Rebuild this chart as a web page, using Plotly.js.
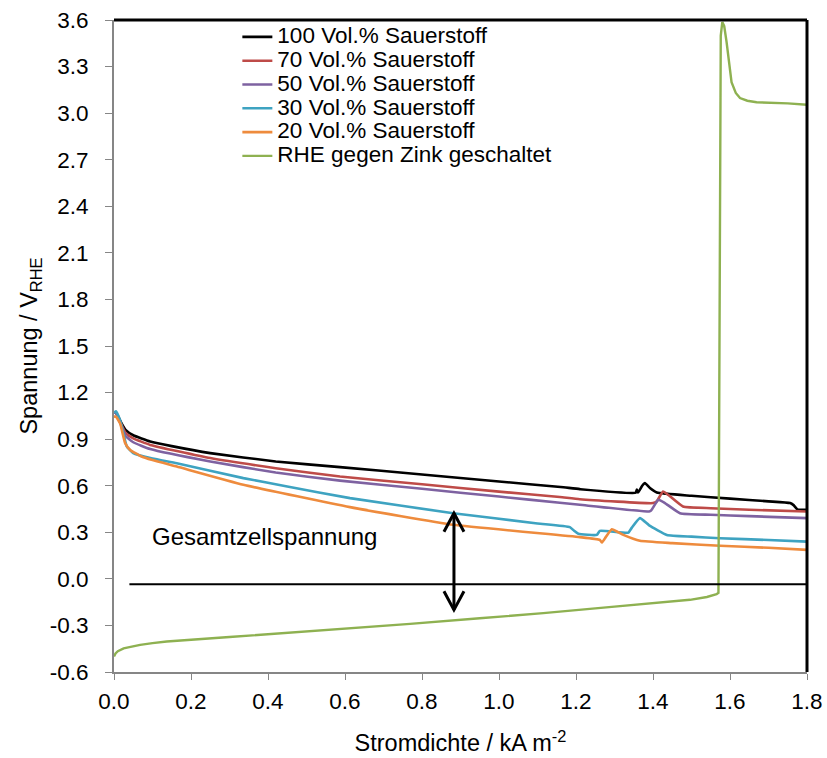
<!DOCTYPE html>
<html><head><meta charset="utf-8">
<script src="https://cdn.plot.ly/plotly-3.0.1.min.js"></script>
<style>html,body{margin:0;padding:0;background:#fff}#chart{width:827px;height:758px}</style>
</head><body><div id="chart"></div>
<script>
// ---- data ----
const seriesNames = ["100 Vol.% Sauerstoff","70 Vol.% Sauerstoff","50 Vol.% Sauerstoff","30 Vol.% Sauerstoff","20 Vol.% Sauerstoff","RHE gegen Zink geschaltet"];

const x100 = [0,0.005,0.012,0.02,0.03,0.05,0.094,0.15,0.25,0.42,0.587,0.8,1.0,1.16,1.21,1.355,1.358,1.361,1.372,1.379,1.392,1.41,1.5,1.6,1.7,1.756,1.765,1.775,1.8];
const y100 = [1.07,1.07,1.04,1.0,0.96,0.925,0.885,0.855,0.81,0.756,0.72,0.672,0.627,0.592,0.578,0.555,0.575,0.556,0.60,0.617,0.585,0.556,0.535,0.517,0.499,0.488,0.475,0.448,0.445];

const x70 = [0,0.005,0.012,0.02,0.03,0.05,0.094,0.25,0.42,0.587,0.8,1.0,1.158,1.21,1.40,1.41,1.426,1.44,1.478,1.55,1.65,1.8];
const y70 = [1.07,1.07,1.03,0.99,0.94,0.905,0.863,0.778,0.713,0.659,0.609,0.562,0.527,0.513,0.488,0.50,0.563,0.54,0.466,0.455,0.445,0.434];

const x50 = [0,0.005,0.012,0.02,0.03,0.05,0.094,0.25,0.42,0.587,0.8,1.0,1.158,1.21,1.39,1.395,1.414,1.43,1.47,1.55,1.65,1.8];
const y50 = [1.07,1.07,1.03,0.98,0.92,0.88,0.836,0.756,0.685,0.633,0.58,0.53,0.49,0.477,0.434,0.44,0.509,0.49,0.423,0.413,0.404,0.391];

const x30 = [0,0.005,0.016,0.025,0.033,0.05,0.1,0.163,0.336,0.45,0.613,0.881,1.10,1.184,1.195,1.206,1.254,1.262,1.336,1.345,1.366,1.39,1.436,1.5,1.574,1.7,1.8];
const y30 = [1.07,1.08,1.02,0.93,0.853,0.81,0.775,0.745,0.649,0.595,0.52,0.423,0.357,0.333,0.31,0.29,0.283,0.309,0.298,0.33,0.391,0.345,0.283,0.272,0.262,0.25,0.24];

const x20 = [0,0.005,0.016,0.029,0.042,0.07,0.1,0.163,0.336,0.613,0.881,1.21,1.262,1.267,1.275,1.293,1.323,1.366,1.45,1.574,1.7,1.8];
const y20 = [1.045,1.045,1.0,0.874,0.83,0.79,0.765,0.723,0.606,0.462,0.348,0.269,0.251,0.234,0.26,0.32,0.283,0.245,0.23,0.213,0.2,0.187];

const xRHE = [0,0.004,0.01,0.016,0.025,0.04,0.068,0.1,0.137,0.3,0.5,0.769,0.95,1.115,1.3,1.496,1.54,1.565,1.570,1.576,1.580,1.585,1.591,1.598,1.604,1.615,1.626,1.645,1.669,1.75,1.8];
const yRHE = [-0.50,-0.48,-0.466,-0.457,-0.448,-0.44,-0.425,-0.414,-0.404,-0.375,-0.34,-0.29,-0.254,-0.221,-0.179,-0.135,-0.117,-0.099,-0.09,3.5,3.587,3.56,3.46,3.3,3.20,3.13,3.097,3.08,3.07,3.063,3.054];

const yTickVals = [-0.6,-0.3,0.0,0.3,0.6,0.9,1.2,1.5,1.8,2.1,2.4,2.7,3.0,3.3,3.6];
const yTickText = ["-0.6","-0.3","0.0","0.3","0.6","0.9","1.2","1.5","1.8","2.1","2.4","2.7","3.0","3.3","3.6"];
const xTickVals = [0,0.2,0.4,0.6,0.8,1.0,1.2,1.4,1.6,1.8];
const xTickText = ["0.0","0.2","0.4","0.6","0.8","1.0","1.2","1.4","1.6","1.8"];

// annotation values
const refLineY = -0.035, refLineX0 = 0.04, refLineX1 = 1.8;
const arrowX = 0.883, arrowTop = 0.423, arrowBottom = -0.2;
const labelText = "Gesamtzellspannung", labelX = 0.392, labelY = 0.27;

// ---- styles ----
const colors = ["#000000","#BE4B48","#7E62A1","#3EA3C1","#EE8B3D","#8EB151"];
const xs = [x100,x70,x50,x30,x20,xRHE];
const ys = [y100,y70,y50,y30,y20,yRHE];
const widths = [2.6,2.6,2.6,2.6,2.6,2.4];

const traces = xs.map((x,i)=>({
  x:x, y:ys[i], name:'<span style="font-size:22.5px">'+seriesNames[i]+'</span>', type:'scatter', mode:'lines',
  line:{color:colors[i], width:widths[i], shape:(i<5?'spline':'linear'), smoothing:0.4}
}));

const font = 'Arial, "Liberation Sans", sans-serif';
const hw = 0.026, hh = 0.12; // arrowhead half-width (x units), height (y units)
const layout = {
  width:827, height:758,
  margin:{l:114, r:20, t:20, b:86},
  paper_bgcolor:'#fff', plot_bgcolor:'#fff',
  font:{family:font, size:22, color:'#000'},
  showlegend:true,
  legend:{x:0.178, y:1.0, xanchor:'left', yanchor:'top', bgcolor:'rgba(0,0,0,0)',
          font:{family:font, size:16, color:'#000'}},
  xaxis:{range:[0,1.8], tickvals:xTickVals, ticktext:xTickText, showgrid:false, zeroline:false,
         showline:true, linecolor:'#868686', linewidth:2, ticks:'outside', ticklen:6, tickcolor:'#868686',
         ticklabelstandoff:2,
         tickfont:{size:22.5}, title:{text:'Stromdichte / kA m<sup>-2</sup>', font:{size:23.5}, standoff:22}},
  yaxis:{range:[-0.6,3.6], tickvals:yTickVals, ticktext:yTickText, showgrid:false, zeroline:false,
         showline:true, linecolor:'#868686', linewidth:2, ticks:'outside', ticklen:7, tickcolor:'#868686',
         ticklabelstandoff:12,
         tickfont:{size:22.5}, title:{text:'Spannung / V<sub>RHE</sub>', font:{size:23.5}, standoff:5}},
  shapes:[
    {type:'line', xref:'paper', yref:'paper', x0:0, x1:1, y0:1, y1:1, line:{color:'#000', width:3}},
    {type:'line', xref:'paper', yref:'paper', x0:1, x1:1, y0:0, y1:1, line:{color:'#000', width:3}},
    {type:'line', xref:'x', yref:'y', x0:refLineX0, x1:refLineX1, y0:refLineY, y1:refLineY, line:{color:'#000', width:2}},
    {type:'line', xref:'x', yref:'y', x0:arrowX, x1:arrowX, y0:arrowBottom, y1:arrowTop, line:{color:'#000', width:3}},
    {type:'path', xref:'x', yref:'y', path:`M ${arrowX-hw} ${arrowTop-hh} L ${arrowX} ${arrowTop} L ${arrowX+hw} ${arrowTop-hh}`, line:{color:'#000', width:3}},
    {type:'path', xref:'x', yref:'y', path:`M ${arrowX-hw} ${arrowBottom+hh} L ${arrowX} ${arrowBottom} L ${arrowX+hw} ${arrowBottom+hh}`, line:{color:'#000', width:3}}
  ],
  annotations:[
    {x:labelX, y:labelY, xref:'x', yref:'y', text:labelText, showarrow:false, font:{size:24, color:'#000'}}
  ]
};

Plotly.newPlot('chart', traces, layout, {staticPlot:true, displayModeBar:false});
</script>
</body></html>
